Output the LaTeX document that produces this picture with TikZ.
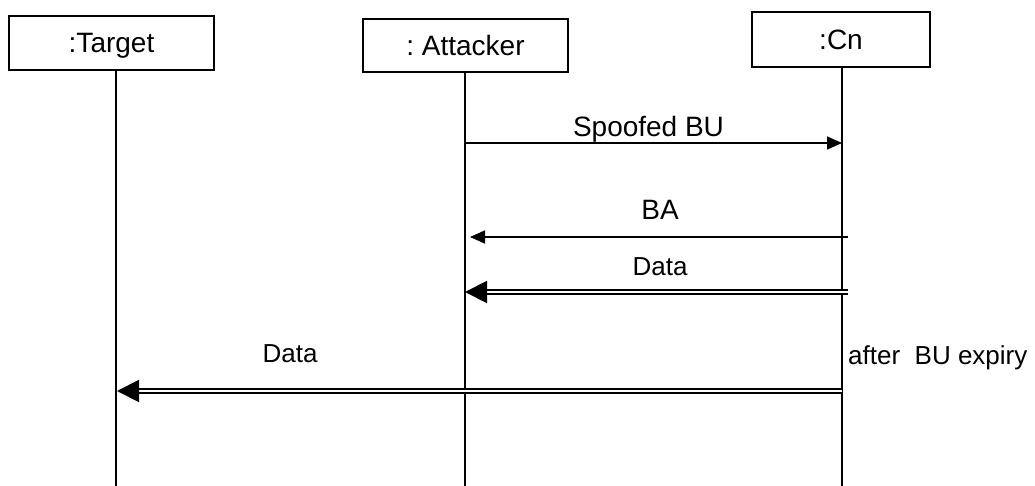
\documentclass[tikz,border=0pt]{standalone}
\usepackage{fontspec}
\setmainfont{Liberation Sans}
\usetikzlibrary{arrows.meta}
\frenchspacing
\begin{document}
\begin{tikzpicture}[x=1pt,y=-1pt,
  font=\fontsize{28}{33}\selectfont,
  obj/.style={draw, line width=1.8pt, inner sep=0pt, text height=20pt, text depth=0pt},
  life/.style={line width=1.5pt},
  msg/.style={line width=1.6pt, -{Triangle[length=15pt,width=13pt]}},
  dmsg/.style={double, line width=2pt, double distance=2pt, -{Triangle[length=22pt,width=22pt]}},
  lbl/.style={anchor=base, inner sep=0pt},
  small/.style={font=\fontsize{26}{31}\selectfont}]
\useasboundingbox (0,0) rectangle (1035,486);

% participants
\node[obj, minimum width=205pt, minimum height=54pt] (tgt) at (111.5,43) {:Target};
\node[obj, minimum width=205pt, minimum height=53pt] (att) at (465.5,45.5) {: Attacker};
\node[obj, minimum width=178pt, minimum height=55pt] (cn) at (841,39.5) {:Cn};

% lifelines
\coordinate (tgtEnd) at (116,486);
\coordinate (attEnd) at (465,486);
\coordinate (cnEnd) at (842,486);
\draw[life] (tgt.south -| tgtEnd) -- (tgtEnd);
\draw[life] (att.south -| attEnd) -- (attEnd);
\draw[life] (cn.south -| cnEnd) -- (cnEnd);

% spoofed binding update
\coordinate (buFrom) at (465,143);
\coordinate (buTo) at (842,143);
\draw[msg] (buFrom) -- (buTo);
\node[lbl] (buLbl) at (648.5,137) {Spoofed BU};

% binding acknowledgement
\coordinate (baFrom) at (848,237);
\coordinate (baTo) at (470,237);
\draw[msg] (baFrom) -- (baTo);
\node[lbl] (baLbl) at (660,220) {BA};

% data redirected to the attacker
\coordinate (d1From) at (848,292);
\coordinate (d1To) at (465,292);
\draw[dmsg] (d1From) -- (d1To);
\node[lbl, small] (d1Lbl) at (660,275) {Data};

% data flooding the target
\coordinate (d2From) at (842,391);
\coordinate (d2To) at (117,391);
\draw[dmsg] (d2From) -- (d2To);
\node[lbl, small] (d2Lbl) at (290,362) {Data};
\node[small, anchor=base west, inner sep=0pt] (expiry) at (848,364) {after\ \ BU expiry};
\end{tikzpicture}
\end{document}
